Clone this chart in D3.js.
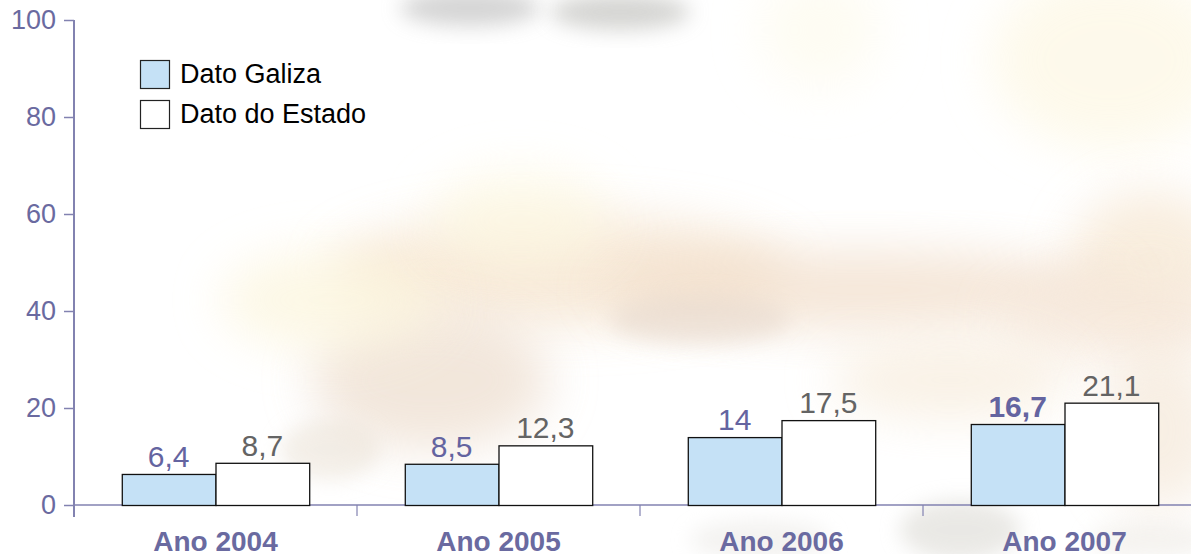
<!DOCTYPE html>
<html>
<head>
<meta charset="utf-8">
<script src="https://cdn.jsdelivr.net/npm/d3@7"></script>
<style>
  html, body { margin: 0; padding: 0; background: #ffffff; }
  svg { display: block; font-family: "Liberation Sans", Arial, sans-serif; }
</style>
</head>
<body>
<svg id="chart" width="1191" height="554"></svg>
<script>
const categories = ["Ano 2004", "Ano 2005", "Ano 2006", "Ano 2007"];
const seriesNames = ["Dato Galiza", "Dato do Estado"];
const galizaValues = [6.4, 8.5, 14, 16.7];
const estadoValues = [8.7, 12.3, 17.5, 21.1];
const valueLabelsGaliza = ["6,4", "8,5", "14", "16,7"];
const valueLabelsEstado = ["8,7", "12,3", "17,5", "21,1"];
const yTicks = [0, 20, 40, 60, 80, 100];

const svg = d3.select("#chart");
const W = 1191, H = 554;

// ---- decorative blurred photo background ----
const defs = svg.append("defs");
defs.append("filter").attr("id", "blur1").attr("x", "-50%").attr("y", "-50%").attr("width", "200%").attr("height", "200%")
  .append("feGaussianBlur").attr("stdDeviation", 24);
defs.append("filter").attr("id", "blur2").attr("x", "-50%").attr("y", "-50%").attr("width", "200%").attr("height", "200%")
  .append("feGaussianBlur").attr("stdDeviation", 10);
const bg = svg.append("g").attr("class", "background");
bg.append("rect").attr("width", W).attr("height", H).attr("fill", "#ffffff");
const blobs = [
  {cx: 1110, cy: 60, rx: 120, ry: 90, c: "#fdf6de", o: 0.6, f: "blur1"},
  {cx: 820, cy: 30, rx: 60, ry: 60, c: "#fdf9e6", o: 0.5, f: "blur1"},
  {cx: 1150, cy: 260, rx: 80, ry: 70, c: "#f6e6d0", o: 0.7, f: "blur1"},
  {cx: 560, cy: 270, rx: 230, ry: 55, c: "#f4e2cc", o: 0.75, f: "blur1"},
  {cx: 860, cy: 290, rx: 260, ry: 40, c: "#f2dfcc", o: 0.75, f: "blur1"},
  {cx: 1120, cy: 320, rx: 120, ry: 45, c: "#f5e6d8", o: 0.7, f: "blur1"},
  {cx: 430, cy: 380, rx: 120, ry: 70, c: "#eedfd0", o: 0.75, f: "blur1"},
  {cx: 330, cy: 300, rx: 110, ry: 50, c: "#fcf5dc", o: 0.7, f: "blur1"},
  {cx: 520, cy: 220, rx: 90, ry: 50, c: "#fdf8e2", o: 0.7, f: "blur1"},
  {cx: 700, cy: 320, rx: 90, ry: 25, c: "#e6d8cc", o: 0.55, f: "blur2"},
  {cx: 950, cy: 380, rx: 120, ry: 40, c: "#f7ecdc", o: 0.7, f: "blur1"},
  {cx: 1160, cy: 430, rx: 60, ry: 80, c: "#f3e4d2", o: 0.6, f: "blur1"},
  {cx: 330, cy: 450, rx: 50, ry: 30, c: "#e8dfd2", o: 0.5, f: "blur2"},
  {cx: 470, cy: 8, rx: 70, ry: 18, c: "#cacaca", o: 0.8, f: "blur2"},
  {cx: 620, cy: 12, rx: 70, ry: 18, c: "#cbcbc8", o: 0.8, f: "blur2"},
  {cx: 960, cy: 530, rx: 60, ry: 30, c: "#dcdad4", o: 0.6, f: "blur2"},
  {cx: 760, cy: 540, rx: 70, ry: 20, c: "#e8e6e2", o: 0.5, f: "blur2"},
  {cx: 1150, cy: 540, rx: 60, ry: 20, c: "#ece8e2", o: 0.5, f: "blur2"}
];
bg.selectAll("ellipse").data(blobs).join("ellipse")
  .attr("cx", d => d.cx).attr("cy", d => d.cy)
  .attr("rx", d => d.rx).attr("ry", d => d.ry)
  .attr("fill", d => d.c).attr("opacity", d => d.o)
  .attr("filter", d => `url(#${d.f})`);

// ---- scales ----
const left = 74, yTop = 20, yBottom = 505, step = 283;
const x = d3.scaleBand().domain(categories).range([left, left + step * categories.length]).padding(0);
const xs = d3.scaleBand().domain(seriesNames).range([0, x.bandwidth()]).paddingInner(0).paddingOuter(0.51);
const y = d3.scaleLinear().domain([0, 100]).range([yBottom, yTop]);

const axisColor = "#8282b0";
const tickTextColor = "#6a6aa0";
const fontFam = "Liberation Sans, Arial, sans-serif";

// ---- y axis ----
const yAxis = svg.append("g").attr("transform", `translate(${left},0)`)
  .call(d3.axisLeft(y).tickValues(yTicks).tickSize(10).tickSizeOuter(0).tickPadding(8));
yAxis.select(".domain").remove();
yAxis.selectAll(".tick line").attr("stroke", axisColor).attr("stroke-width", 1.5);
yAxis.selectAll(".tick text").attr("fill", tickTextColor).attr("font-size", 27)
  .attr("font-family", fontFam);
svg.append("line").attr("x1", left).attr("x2", left).attr("y1", y(100)).attr("y2", yBottom + 12)
  .attr("stroke", axisColor).attr("stroke-width", 2);

// ---- x axis ----
const xAxis = svg.append("g").attr("transform", `translate(0,${yBottom})`)
  .call(d3.axisBottom(x).tickSize(0).tickPadding(26));
xAxis.select(".domain").remove();
xAxis.selectAll(".tick text").attr("fill", tickTextColor).attr("font-size", 28)
  .attr("font-weight", "bold").attr("font-family", fontFam);
svg.append("line").attr("x1", left).attr("x2", W).attr("y1", yBottom).attr("y2", yBottom)
  .attr("stroke", axisColor).attr("stroke-width", 1.5);
svg.selectAll(".sep").data(categories.slice(1)).join("line").attr("class", "sep")
  .attr("x1", d => x(d)).attr("x2", d => x(d))
  .attr("y1", yBottom).attr("y2", yBottom + 11)
  .attr("stroke", axisColor).attr("stroke-width", 1.5).attr("opacity", 0.8);

// ---- bars ----
const rows = categories.map((c, i) => ({
  cat: c,
  vals: [
    {s: seriesNames[0], v: galizaValues[i], label: valueLabelsGaliza[i], fill: "#c5e1f6", color: "#6464a0", bold: i === categories.length - 1},
    {s: seriesNames[1], v: estadoValues[i], label: valueLabelsEstado[i], fill: "#ffffff", color: "#646464", bold: false}
  ]
}));
const groups = svg.selectAll(".grp").data(rows).join("g").attr("class", "grp")
  .attr("transform", d => `translate(${x(d.cat)},0)`);
groups.selectAll("rect").data(d => d.vals).join("rect")
  .attr("x", d => xs(d.s) + 0.5)
  .attr("y", d => y(d.v) + 0.5)
  .attr("width", xs.bandwidth())
  .attr("height", d => y(0) - y(d.v))
  .attr("fill", d => d.fill)
  .attr("stroke", "#111").attr("stroke-width", 1.3);
groups.selectAll("text.val").data(d => d.vals).join("text").attr("class", "val")
  .attr("x", d => xs(d.s) + xs.bandwidth() / 2)
  .attr("y", d => y(d.v) - 7)
  .attr("text-anchor", "middle")
  .attr("font-size", 30)
  .attr("font-weight", d => d.bold ? "bold" : "normal")
  .attr("fill", d => d.color)
  .text(d => d.label);

// ---- legend ----
const legendFills = ["#c5e1f6", "#ffffff"];
const legend = svg.append("g").attr("transform", "translate(140,60)");
const li = legend.selectAll("g").data(seriesNames).join("g")
  .attr("transform", (d, i) => `translate(0,${i * 40})`);
li.append("rect").attr("x", 0.5).attr("y", 0.5).attr("width", 29).attr("height", 28)
  .attr("fill", (d, i) => legendFills[i]).attr("stroke", "#222").attr("stroke-width", 1.2);
li.append("text").attr("x", 40).attr("y", 23).attr("font-size", 27).attr("fill", "#000")
  .text(d => d);
</script>
</body>
</html>
